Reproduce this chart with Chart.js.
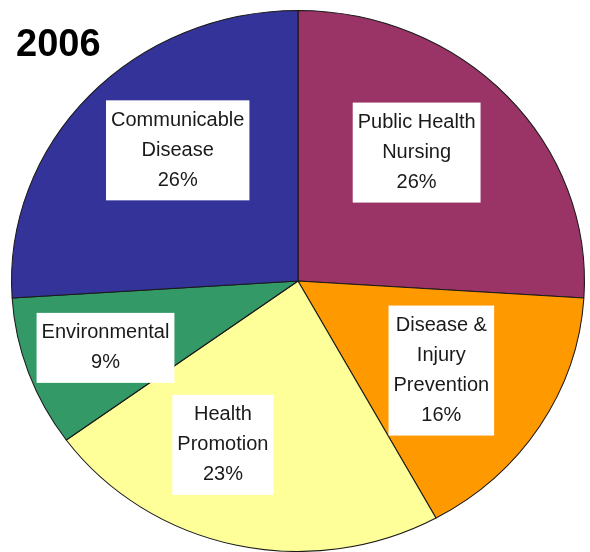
<!DOCTYPE html>
<html>
<head>
<meta charset="utf-8">
<script src="https://cdn.jsdelivr.net/npm/chart.js@4"></script>
<style>
  html, body { margin: 0; padding: 0; background: #fff; }
  #wrap { position: relative; width: 590px; height: 552px; }
  #title { position: absolute; left: 16px; top: 22px; font: bold 38px "Liberation Sans", Arial, sans-serif; color: #000; }
</style>
</head>
<body>
<div id="wrap">
  <canvas id="myChart" width="590" height="552"></canvas>
  <div id="title">2006</div>
</div>
<script>
// slices, clockwise from 12 o'clock
const labels = [['Public Health', 'Nursing'], ['Disease &', 'Injury', 'Prevention'], ['Health', 'Promotion'], ['Environmental'], ['Communicable', 'Disease']];
const values = [26, 16, 23, 9, 26];
const colors = ['#9a3366', '#ff9900', '#ffff99', '#339966', '#333399'];

// label box placement: fraction of radius and angle nudge (deg)
const labelRadius = [0.63, 0.60, 0.66, 0.716, 0.64];
const labelNudge = [-5.7, 1.1, 10.8, -0.4, 5.8];
const stretchX = 1.059; // the pie in the picture is a bit wider than tall

const stretch = {
  id: 'stretch',
  beforeDatasetsDraw(chart) {
    const arc = chart.getDatasetMeta(0).data[0];
    const ctx = chart.ctx;
    ctx.save();
    ctx.translate(arc.x, arc.y);
    ctx.scale(stretchX, 1);
    ctx.translate(-arc.x, -arc.y);
  },
  afterDatasetsDraw(chart) {
    chart.ctx.restore();
  }
};

const boxLabels = {
  id: 'boxLabels',
  afterDraw(chart) {
    const ctx = chart.ctx;
    const total = values.reduce((a, b) => a + b, 0);
    ctx.save();
    ctx.font = '20px "Liberation Sans", Arial, sans-serif';
    ctx.textAlign = 'center';
    ctx.textBaseline = 'middle';
    chart.getDatasetMeta(0).data.forEach((arc, i) => {
      const mid = (arc.startAngle + arc.endAngle) / 2 + labelNudge[i] * Math.PI / 180;
      const r = arc.outerRadius * labelRadius[i];
      const cx = arc.x + Math.cos(mid) * r * stretchX;
      const cy = arc.y + Math.sin(mid) * r;
      const lines = labels[i].concat([Math.round(values[i] / total * 100) + '%']);
      const w = Math.max(...lines.map(l => ctx.measureText(l).width)) + 10;
      const lh = 30;
      const h = lines.length * lh + 10;
      ctx.fillStyle = '#ffffff';
      ctx.fillRect(cx - w / 2, cy - h / 2, w, h);
      ctx.fillStyle = '#1a1a1a';
      lines.forEach((l, k) => {
        ctx.fillText(l, cx, cy - h / 2 + 5 + lh * k + lh / 2);
      });
    });
    ctx.restore();
  }
};

const ctx = document.getElementById('myChart').getContext('2d');
const chart = new Chart(ctx, {
  type: 'pie',
  data: {
    labels: labels.map(l => l.join(' ')),
    datasets: [{
      data: values,
      backgroundColor: colors,
      borderColor: '#1a1a1a',
      borderWidth: 1
    }]
  },
  options: {
    responsive: false,
    animation: false,
    layout: { padding: { top: 10, bottom: 0, left: 27, right: 21 } },
    plugins: {
      legend: { display: false },
      tooltip: { enabled: false }
    }
  },
  plugins: [stretch, boxLabels]
});
</script>
</body>
</html>
